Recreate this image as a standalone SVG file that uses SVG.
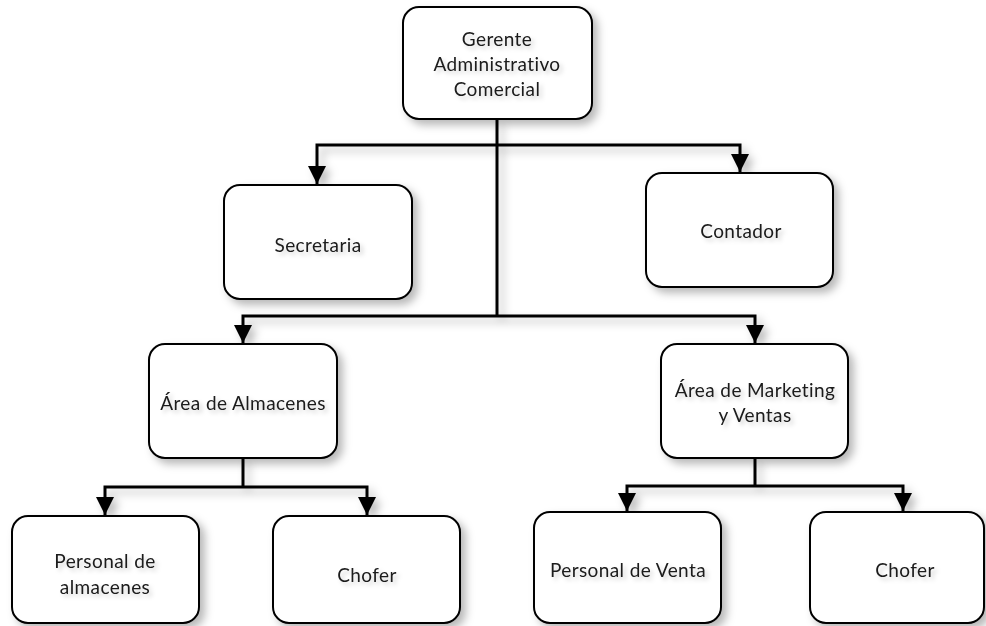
<svg xmlns="http://www.w3.org/2000/svg" width="986" height="626" viewBox="0 0 986 626">
  <defs>
    <filter id="sh" x="-10%" y="-10%" width="130%" height="130%">
      <feDropShadow dx="5" dy="5" stdDeviation="4" flood-color="#000" flood-opacity="0.28"/>
    </filter>
    <filter id="tsh" x="-10%" y="-30%" width="130%" height="180%">
      <feDropShadow dx="3" dy="3" stdDeviation="2" flood-color="#000" flood-opacity="0.18"/>
    </filter>
    <marker id="arr" viewBox="0 0 18 18" refX="18" refY="9" markerWidth="18" markerHeight="18" markerUnits="userSpaceOnUse" orient="auto">
      <path d="M0,0 L18,9 L0,18 z" fill="#000"/>
    </marker>
  </defs>
  <style>
    .box { fill: #fff; stroke: #000; stroke-width: 2; }
    .lbl { font-family: Lato, "Liberation Sans", sans-serif; font-size: 19px; letter-spacing: 0.4px; fill: #1a1a1a; text-anchor: middle; filter: url(#tsh); }
    .con { fill: none; stroke: #000; stroke-width: 3; }
    .sh { filter: url(#sh); }
  </style>
  <rect width="986" height="626" fill="#fff"/>

  <g id="connectors">
    <g class="sh">
      <path class="con" d="M497,120 V316"/>
      <path class="con" d="M497,145 H317 V184" marker-end="url(#arr)"/>
      <path class="con" d="M497,145 H740 V172" marker-end="url(#arr)"/>
      <path class="con" d="M497,316 H243 V343" marker-end="url(#arr)"/>
      <path class="con" d="M497,316 H755 V343" marker-end="url(#arr)"/>
      <path class="con" d="M243,458 V487"/>
      <path class="con" d="M243,487 H105 V515" marker-end="url(#arr)"/>
      <path class="con" d="M243,487 H367 V515" marker-end="url(#arr)"/>
      <path class="con" d="M755,458 V486"/>
      <path class="con" d="M755,486 H627 V511" marker-end="url(#arr)"/>
      <path class="con" d="M755,486 H903 V511" marker-end="url(#arr)"/>
    </g>
  </g>

  <g id="gerente">
    <rect class="box sh" x="403" y="7" width="189" height="112" rx="16"/>
    <text class="lbl" x="497" y="46">Gerente</text>
    <text class="lbl" x="497" y="71">Administrativo</text>
    <text class="lbl" x="497" y="96">Comercial</text>
  </g>
  <g id="secretaria">
    <rect class="box sh" x="224" y="185" width="188" height="114" rx="16"/>
    <text class="lbl" x="318" y="252">Secretaria</text>
  </g>
  <g id="contador">
    <rect class="box sh" x="646" y="173" width="187" height="114" rx="16"/>
    <text class="lbl" x="741" y="238">Contador</text>
  </g>
  <g id="almacenes">
    <rect class="box sh" x="149" y="344" width="188" height="114" rx="16"/>
    <text class="lbl" x="243" y="410">Área de  Almacenes</text>
  </g>
  <g id="marketing">
    <rect class="box sh" x="661" y="344" width="187" height="114" rx="16"/>
    <text class="lbl" x="755" y="397">Área de  Marketing</text>
    <text class="lbl" x="755" y="422">y Ventas</text>
  </g>
  <g id="personal-almacenes">
    <rect class="box sh" x="12" y="516" width="187" height="107" rx="16"/>
    <text class="lbl" x="105" y="568">Personal de</text>
    <text class="lbl" x="105" y="594">almacenes</text>
  </g>
  <g id="chofer-1">
    <rect class="box sh" x="273" y="516" width="187" height="107" rx="16"/>
    <text class="lbl" x="367" y="582">Chofer</text>
  </g>
  <g id="personal-venta">
    <rect class="box sh" x="534" y="512" width="187" height="111" rx="16"/>
    <text class="lbl" x="628" y="577">Personal de Venta</text>
  </g>
  <g id="chofer-2">
    <rect class="box sh" x="810" y="512" width="174" height="111" rx="16"/>
    <text class="lbl" x="905" y="577">Chofer</text>
  </g>
</svg>
